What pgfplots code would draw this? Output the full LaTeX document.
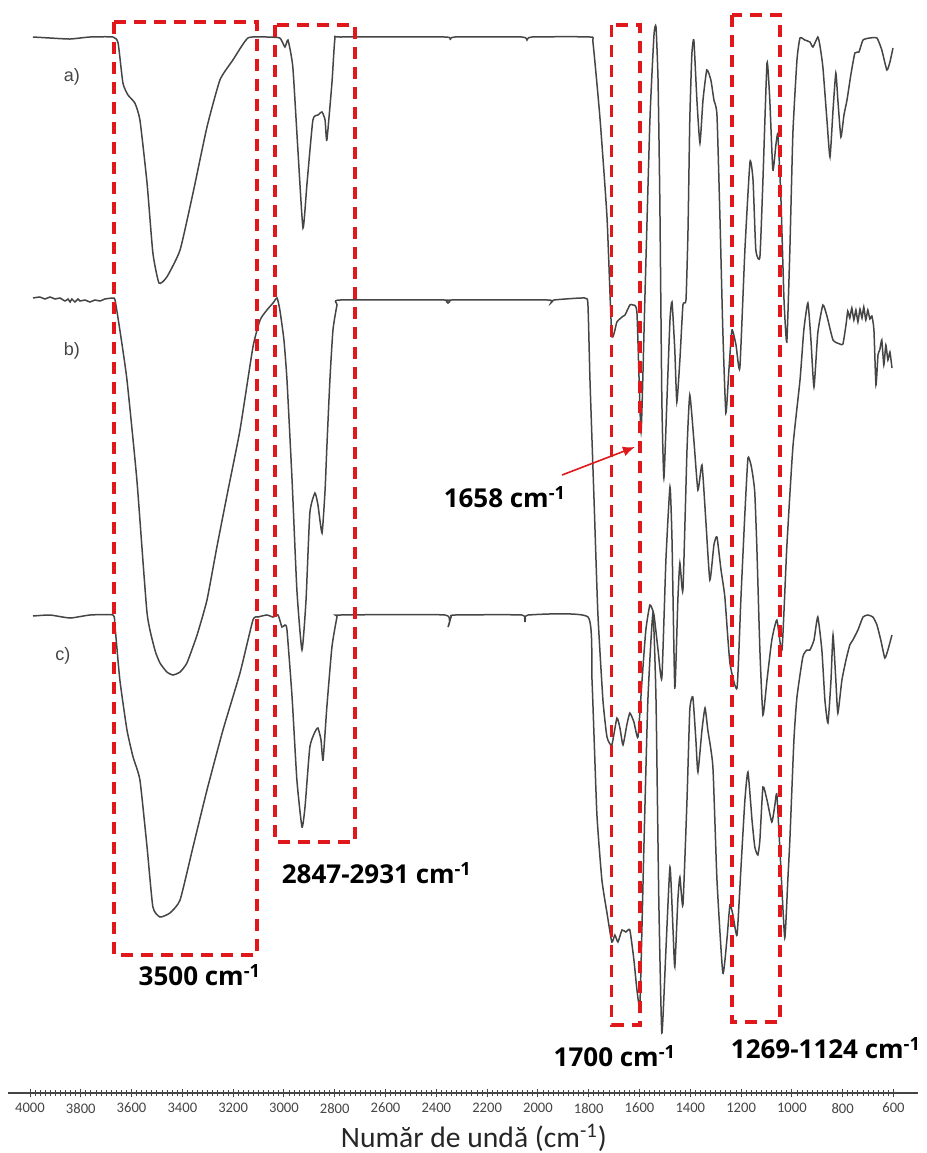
\documentclass[border=0pt]{standalone}
\usepackage{fontspec}
\setmainfont{Carlito}
\newfontfamily\annfont{Open Sans}
\newfontfamily\lblfont{Liberation Sans}
\usepackage{pgfplots}
\usetikzlibrary{arrows.meta}
\pgfplotsset{compat=1.18}
\definecolor{spec}{HTML}{454545}
\definecolor{boxred}{HTML}{E0181B}
\begin{document}
\begin{tikzpicture}
\begin{axis}[
  scale only axis, width=455pt, height=546.5pt,
  xmin=504, xmax=4087, x dir=reverse,
  ymin=0, ymax=1093, y dir=reverse,
  axis x line*=bottom, hide y axis, clip=false,
  x axis line style={color=spec, line width=0.7pt},
  xtick={600,800,...,4000}, minor tick num=9,
  tick align=center, major tick length=4pt, minor tick length=2.6pt,
  every tick/.style={color=spec, line width=0.45pt},
  /pgf/number format/1000 sep={}, /pgf/number format/assume math mode=true,
  xticklabel style={font=\fontsize{7.3}{8}\selectfont, text=spec, yshift=0.5pt},
]
% spectrum a
\addplot[spec, line width=0.75pt, smooth, tension=0.3] table {
3988 37
3921 38
3842 39
3764 37
3673 37
3653 43
3634 83
3614 95
3587 103
3567 120
3539 183
3516 253
3492 283
3461 277
3409 250
3358 193
3303 127
3252 80
3201 60
3142 38
3067 37
3016 38
2996 47
2984 40
2965 67
2945 150
2925 228
2909 183
2886 120
2866 115
2850 112
2838 120
2831 140
2811 83
2799 38
2779 37
2366 37
2346 40
2327 37
2063 37
2043 40
2024 37
1795 37
1783 43
1756 117
1728 217
1709 335
1689 322
1669 317
1657 315
1638 305
1626 305
1610 313
1594 432
1579 300
1559 120
1543 35
1535 27
1527 80
1520 200
1512 400
1504 478
1492 400
1480 320
1472 302
1461 350
1453 402
1441 360
1429 305
1417 300
1409 230
1402 120
1394 55
1386 40
1374 100
1362 143
1350 100
1335 70
1319 80
1307 100
1295 115
1283 220
1272 330
1260 413
1248 370
1236 330
1220 345
1205 368
1185 250
1165 162
1153 180
1142 250
1126 257
1114 180
1098 63
1087 100
1075 170
1063 145
1055 135
1043 200
1031 300
1020 342
1008 250
996 133
980 60
968 38
949 40
929 42
917 47
898 37
890 45
878 67
862 120
850 157
838 110
827 73
819 100
807 137
795 115
783 100
768 75
752 53
736 52
720 40
693 38
665 38
646 50
626 70
614 62
602 48
};
% spectrum b
\addplot[spec, line width=0.75pt, smooth, tension=0.3] table {
3988 298
3961 297
3941 299
3921 297
3901 299
3882 298
3862 301
3850 299
3842 302
3835 299
3823 302
3811 299
3803 301
3783 300
3764 302
3744 300
3724 301
3705 299
3673 298
3665 300
3646 330
3618 380
3579 480
3539 613
3508 650
3488 663
3461 672
3437 675
3409 672
3382 663
3342 635
3303 600
3264 547
3220 490
3173 430
3122 347
3094 320
3067 310
3043 303
3027 298
3016 310
3000 340
2988 380
2968 480
2949 590
2929 650
2913 600
2898 513
2878 493
2866 505
2850 533
2838 490
2831 447
2819 380
2807 330
2791 305
2779 300
2366 300
2354 303
2342 300
1961 300
1949 303
1937 300
1815 298
1803 305
1795 380
1779 500
1764 613
1744 700
1728 737
1709 745
1689 718
1677 728
1665 745
1650 725
1638 713
1622 722
1606 737
1590 680
1575 630
1559 605
1543 615
1527 650
1512 678
1496 560
1480 487
1472 540
1461 688
1449 600
1441 563
1429 590
1413 450
1402 395
1386 440
1370 490
1354 465
1339 520
1323 580
1307 545
1295 537
1279 570
1264 597
1244 663
1216 688
1201 600
1185 513
1173 458
1161 465
1153 477
1146 493
1138 547
1126 650
1114 715
1098 680
1079 640
1059 620
1039 650
1020 547
996 447
968 380
953 330
937 303
925 340
913 387
898 333
878 305
862 316
838 340
811 344
799 344
787 325
780 311
772 318
764 308
756 320
748 310
740 322
732 309
724 318
717 307
709 320
701 310
693 319
685 316
677 330
669 385
661 355
654 350
646 340
638 365
630 345
622 360
614 352
606 368
};
% spectrum c
\addplot[spec, line width=0.75pt, smooth, tension=0.3] table {
3988 616
3921 615
3842 618
3764 615
3673 615
3665 627
3646 680
3618 730
3594 757
3567 780
3539 847
3516 907
3488 917
3449 913
3409 900
3358 847
3303 790
3240 730
3173 673
3122 620
3102 617
3067 615
3043 617
3023 615
3008 627
2996 625
2988 630
2968 697
2949 780
2929 827
2917 807
2898 747
2878 732
2866 728
2854 740
2846 760
2831 707
2811 647
2791 617
2779 615
2366 615
2354 627
2342 617
2327 615
2063 615
2051 622
2039 615
1803 617
1787 680
1768 813
1748 880
1728 913
1709 942
1697 935
1685 942
1669 930
1654 932
1638 930
1622 960
1610 990
1598 1002
1583 850
1567 700
1547 613
1535 700
1524 900
1512 1033
1496 950
1480 867
1468 930
1461 967
1449 900
1441 877
1429 905
1413 800
1402 710
1390 697
1378 740
1370 772
1354 730
1342 708
1331 730
1311 767
1295 880
1272 973
1256 940
1244 905
1232 915
1216 935
1201 870
1185 800
1173 772
1157 820
1146 847
1134 855
1126 840
1114 787
1098 800
1079 822
1067 805
1059 795
1043 870
1028 938
1016 880
1008 840
992 740
980 697
957 657
941 650
929 650
913 640
898 617
882 650
870 700
858 723
846 680
838 635
827 680
819 713
803 680
787 660
772 645
760 640
740 630
720 617
701 615
681 617
665 625
650 640
634 658
622 650
606 635
};
% red dashed boxes
\begin{scope}[boxred, line width=1.6pt, dash pattern=on 6pt off 4pt]
\draw (axis cs:3669,22) rectangle (axis cs:3106,955);
\draw (axis cs:3035,25) rectangle (axis cs:2720,842);
\draw (axis cs:1709,25) rectangle (axis cs:1598,1025);
\draw (axis cs:1236,15) rectangle (axis cs:1047,1022);
\end{scope}
\draw[boxred, line width=0.8pt, -{Latex[length=6pt,width=5pt]}] (axis cs:1905,475) -- (axis cs:1618,447);
% labels
\node[font=\lblfont\fontsize{9}{10}\selectfont, text=spec] at (axis cs:3835,77) {a)};
\node[font=\lblfont\fontsize{9}{10}\selectfont, text=spec] at (axis cs:3835,351) {b)};
\node[font=\lblfont\fontsize{9}{10}\selectfont, text=spec] at (axis cs:3870,656) {c)};
\begin{scope}[every node/.style={font=\annfont\bfseries\fontsize{13}{14}\selectfont}]
\node at (axis cs:3331,975) {3500 cm\textsuperscript{-1}};
\node at (axis cs:2634,873) {2847-2931 cm\textsuperscript{-1}};
\node at (axis cs:2130,497) {1658 cm\textsuperscript{-1}};
\node at (axis cs:1697,1056) {1700 cm\textsuperscript{-1}};
\node at (axis cs:866,1048) {1269-1124 cm\textsuperscript{-1}};
\end{scope}
\node[font=\fontsize{14.8}{16}\selectfont, text=black!85] at (axis cs:2252,1138) {Număr de undă (cm\textsuperscript{-1})};
\coordinate (TL) at (axis cs:4118,0);
\coordinate (BR) at (axis cs:468.4,1153);
\end{axis}
\pgfresetboundingbox
\useasboundingbox (TL) rectangle (BR);
\end{tikzpicture}
\end{document}
